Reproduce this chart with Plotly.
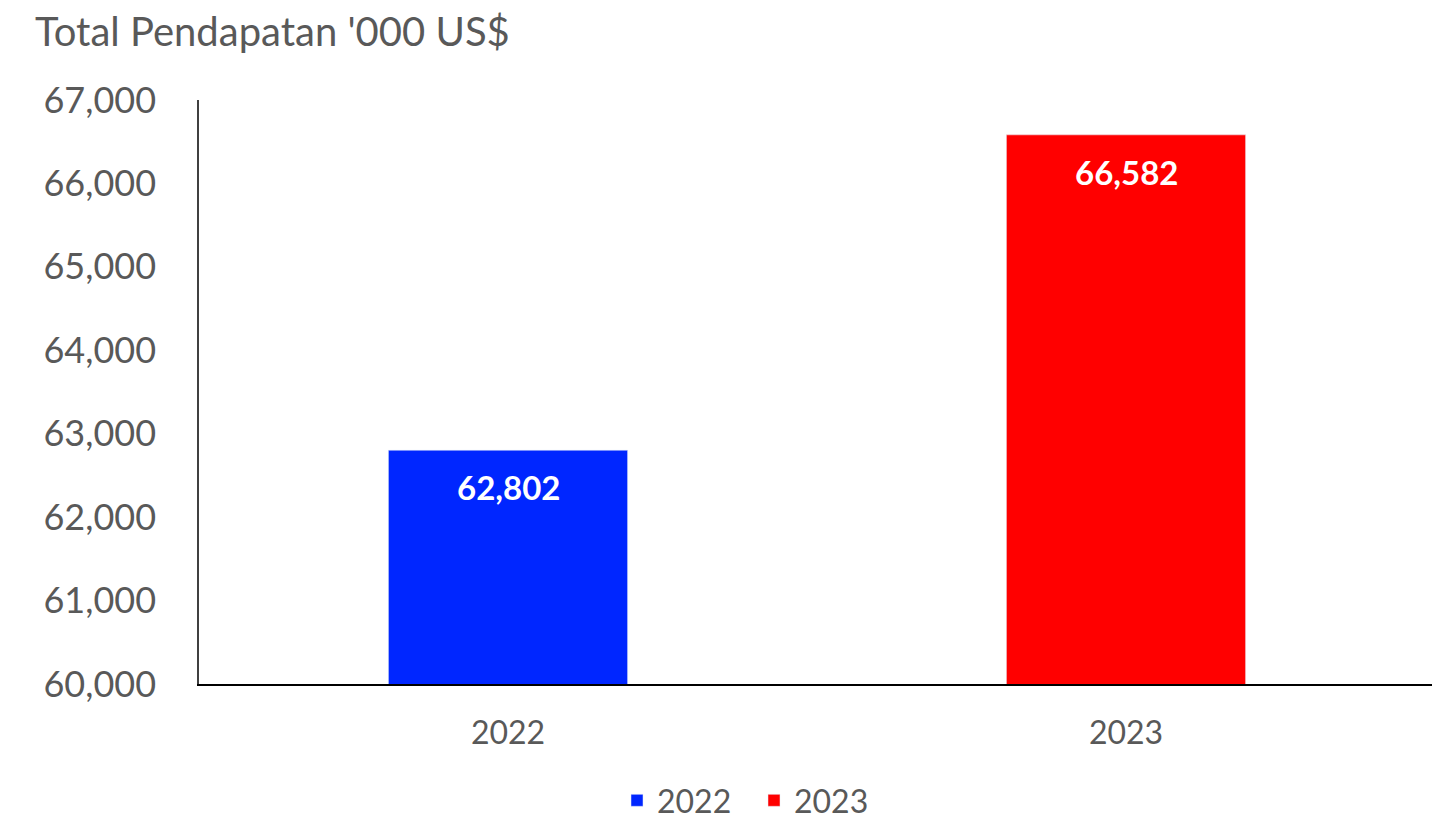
import plotly.graph_objects as go

categories = ["2022", "2023"]
values = [62802, 66582]
colors = ["#0026FF", "#FF0000"]
tick_vals = [60000, 61000, 62000, 63000, 64000, 65000, 66000, 67000]

FONT = "Lato"
GRAY = "#595959"

fig = go.Figure()
for i, (cat, val, col) in enumerate(zip(categories, values, colors)):
    fig.add_trace(go.Bar(
        x=[cat], y=[val], name=cat, marker_color=col, width=0.387,
    ))
    fig.add_annotation(
        x=i, y=val, text=f"{val:,}", showarrow=False, yanchor="middle",
        yshift=-37, font=dict(family=FONT, size=33, color="white", weight="bold"),
    )

fig.update_layout(
    width=1440, height=820,
    barmode="overlay",
    plot_bgcolor="white", paper_bgcolor="white",
    margin=dict(l=191, r=13, t=92, b=144),
    title=dict(text="Total Pendapatan '000 US$", x=27 / 1440, xref="container", xanchor="left",
               y=1 - 10 / 820, yref="container", yanchor="top",
               font=dict(family=FONT, size=40, color=GRAY)),
    legend=dict(orientation="h", x=0.5 + 26 / 1440, xanchor="center", xref="container",
                y=0.0, yref="container", yanchor="bottom",
                entrywidth=92, entrywidthmode="pixels",
                font=dict(family=FONT, size=32, color=GRAY)),
    font=dict(family=FONT, color=GRAY),
)
fig.update_xaxes(type="category", categoryorder="array", categoryarray=categories,
                 range=[-0.5, len(categories) - 0.5],
                 showline=True, linecolor="#000000", linewidth=1.5,
                 tickfont=dict(family=FONT, size=32, color=GRAY), ticks="", ticklabelstandoff=20)
fig.update_yaxes(range=[60000, 67000], tickvals=tick_vals, tickformat=",",
                 showgrid=False, showline=True, linecolor="#404040", linewidth=1.5,
                 zeroline=False, ticks="", ticklabelstandoff=34,
                 tickfont=dict(family=FONT, size=36, color=GRAY))

fig.write_html("out.html")
